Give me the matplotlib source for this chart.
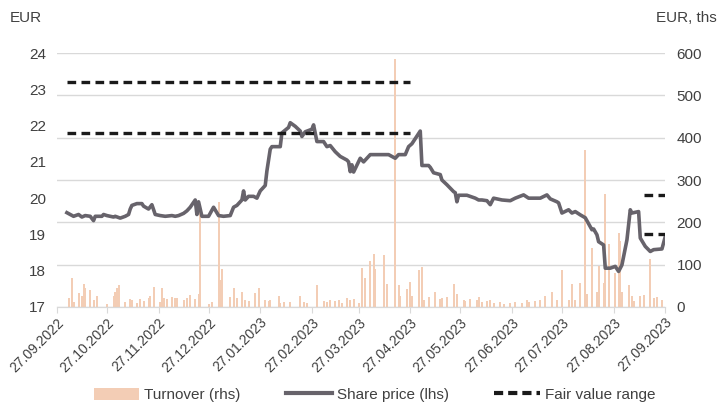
import pandas as pd
import matplotlib.pyplot as plt
import matplotlib.dates as mdates
from matplotlib.patches import Patch
from matplotlib.lines import Line2D

plt.rcParams['font.family'] = ['Liberation Sans', 'DejaVu Sans']

# share price, EUR (lhs)
price_dates = [
    '2022-10-03', '2022-10-05', '2022-10-07', '2022-10-10', '2022-10-12', '2022-10-14',
    '2022-10-17', '2022-10-19', '2022-10-20', '2022-10-24', '2022-10-25', '2022-10-27',
    '2022-10-31', '2022-11-01', '2022-11-04', '2022-11-07', '2022-11-09', '2022-11-10',
    '2022-11-11', '2022-11-14', '2022-11-17', '2022-11-18', '2022-11-21', '2022-11-23',
    '2022-11-25', '2022-11-28', '2022-12-01', '2022-12-05', '2022-12-07', '2022-12-09',
    '2022-12-12', '2022-12-14', '2022-12-16', '2022-12-19', '2022-12-20', '2022-12-21',
    '2022-12-23', '2022-12-27', '2022-12-30', '2023-01-02', '2023-01-05', '2023-01-09',
    '2023-01-11', '2023-01-13', '2023-01-16', '2023-01-17', '2023-01-18', '2023-01-20',
    '2023-01-23', '2023-01-25', '2023-01-27', '2023-01-30', '2023-01-31', '2023-02-02',
    '2023-02-03', '2023-02-08', '2023-02-09', '2023-02-13', '2023-02-14', '2023-02-17',
    '2023-02-20', '2023-02-21', '2023-02-23', '2023-02-27', '2023-02-28', '2023-03-02',
    '2023-03-06', '2023-03-08', '2023-03-10', '2023-03-13', '2023-03-16', '2023-03-20',
    '2023-03-21', '2023-03-22', '2023-03-23', '2023-03-24', '2023-03-28', '2023-03-30',
    '2023-04-03', '2023-04-10', '2023-04-14', '2023-04-18', '2023-04-20', '2023-04-24',
    '2023-04-26', '2023-04-28', '2023-05-03', '2023-05-04', '2023-05-08', '2023-05-09',
    '2023-05-11', '2023-05-15', '2023-05-16', '2023-05-19', '2023-05-23', '2023-05-24',
    '2023-05-25', '2023-05-26', '2023-05-31', '2023-06-05', '2023-06-07', '2023-06-09',
    '2023-06-12', '2023-06-14', '2023-06-16', '2023-06-21', '2023-06-26', '2023-06-29',
    '2023-07-04', '2023-07-07', '2023-07-14', '2023-07-18', '2023-07-20', '2023-07-24',
    '2023-07-25', '2023-07-27', '2023-07-31', '2023-08-02', '2023-08-04', '2023-08-07',
    '2023-08-10', '2023-08-14', '2023-08-15', '2023-08-17', '2023-08-18', '2023-08-21',
    '2023-08-22', '2023-08-25', '2023-08-28', '2023-08-30', '2023-09-01', '2023-09-04',
    '2023-09-06', '2023-09-07', '2023-09-11', '2023-09-12', '2023-09-15', '2023-09-18',
    '2023-09-20', '2023-09-25', '2023-09-27',
]
price = [
    19.60, 19.55, 19.50, 19.55, 19.48, 19.52,
    19.50, 19.38, 19.50, 19.50, 19.55, 19.52,
    19.48, 19.50, 19.45, 19.50, 19.55, 19.70,
    19.80, 19.85, 19.85, 19.78, 19.70, 19.82,
    19.55, 19.52, 19.50, 19.52, 19.50, 19.52,
    19.58, 19.65, 19.75, 19.95, 19.55, 19.90,
    19.50, 19.50, 19.75, 19.52, 19.50, 19.52,
    19.75, 19.80, 19.95, 20.20, 19.95, 20.05,
    20.05, 20.00, 20.20, 20.35, 20.75, 21.35,
    21.42, 21.42, 21.80, 21.95, 22.08, 21.98,
    21.85, 21.70, 21.83, 21.90, 22.02, 21.56,
    21.56, 21.42, 21.45, 21.28, 21.15, 21.05,
    21.00, 20.73, 20.92, 20.72, 21.10, 21.00,
    21.20, 21.20, 21.20, 21.10, 21.20, 21.20,
    21.42, 21.50, 21.85, 20.90, 20.90, 20.85,
    20.70, 20.65, 20.50, 20.37, 20.18, 20.15,
    19.90, 20.08, 20.08, 20.00, 19.95, 19.95,
    19.93, 19.82, 20.00, 19.95, 19.93, 20.00,
    20.09, 20.00, 20.00, 20.09, 19.98, 19.90,
    19.87, 19.59, 19.68, 19.59, 19.63, 19.54,
    19.46, 19.13, 19.15, 18.99, 18.80, 18.71,
    18.07, 18.07, 18.12, 17.98, 18.16, 18.85,
    19.68, 19.59, 19.63, 18.90, 18.67, 18.53,
    18.58, 18.60, 18.94,
]

# turnover, EUR ths (rhs)
turnover_dates = [
    '2022-10-04', '2022-10-06', '2022-10-07', '2022-10-10', '2022-10-12', '2022-10-13',
    '2022-10-14', '2022-10-17', '2022-10-19', '2022-10-21', '2022-10-27', '2022-10-31',
    '2022-11-01', '2022-11-02', '2022-11-03', '2022-11-07', '2022-11-10', '2022-11-11',
    '2022-11-14', '2022-11-16', '2022-11-18', '2022-11-21', '2022-11-22', '2022-11-24',
    '2022-11-28', '2022-11-29', '2022-11-30', '2022-12-02', '2022-12-05', '2022-12-07',
    '2022-12-08', '2022-12-12', '2022-12-14', '2022-12-16', '2022-12-19', '2022-12-21',
    '2022-12-22', '2022-12-27', '2022-12-29', '2023-01-02', '2023-01-03', '2023-01-04',
    '2023-01-09', '2023-01-11', '2023-01-13', '2023-01-16', '2023-01-18', '2023-01-20',
    '2023-01-24', '2023-01-26', '2023-01-30', '2023-02-01', '2023-02-02', '2023-02-07',
    '2023-02-08', '2023-02-10', '2023-02-14', '2023-02-20', '2023-02-22', '2023-02-24',
    '2023-03-02', '2023-03-06', '2023-03-08', '2023-03-10', '2023-03-13', '2023-03-15',
    '2023-03-17', '2023-03-20', '2023-03-22', '2023-03-24', '2023-03-27', '2023-03-29',
    '2023-03-31', '2023-04-03', '2023-04-05', '2023-04-06', '2023-04-11', '2023-04-13',
    '2023-04-18', '2023-04-20', '2023-04-21', '2023-04-25', '2023-04-27', '2023-04-28',
    '2023-05-02', '2023-05-04', '2023-05-05', '2023-05-08', '2023-05-12', '2023-05-15',
    '2023-05-16', '2023-05-19', '2023-05-23', '2023-05-25', '2023-05-29', '2023-05-30',
    '2023-06-02', '2023-06-06', '2023-06-07', '2023-06-09', '2023-06-12', '2023-06-14',
    '2023-06-16', '2023-06-20', '2023-06-22', '2023-06-26', '2023-06-29', '2023-07-03',
    '2023-07-06', '2023-07-07', '2023-07-11', '2023-07-14', '2023-07-17', '2023-07-21',
    '2023-07-24', '2023-07-27', '2023-07-31', '2023-08-02', '2023-08-04', '2023-08-07',
    '2023-08-10', '2023-08-11', '2023-08-14', '2023-08-17', '2023-08-18', '2023-08-21',
    '2023-08-22', '2023-08-24', '2023-08-28', '2023-08-30', '2023-08-31', '2023-09-01',
    '2023-09-05', '2023-09-07', '2023-09-08', '2023-09-12', '2023-09-14', '2023-09-18',
    '2023-09-20', '2023-09-22', '2023-09-25',
]
turnover = [
    21, 68, 12, 32, 25, 55,
    44, 41, 16, 27, 7, 25,
    35, 46, 53, 12, 19, 16,
    10, 19, 14, 21, 25, 48,
    12, 46, 21, 19, 24, 21,
    21, 16, 21, 28, 18, 30,
    226, 7, 12, 249, 64, 89,
    23, 44, 21, 36, 16, 14,
    32, 46, 16, 14, 16, 27,
    9, 12, 12, 27, 12, 9,
    53, 14, 12, 16, 15, 16,
    9, 21, 16, 18, 9, 91,
    69, 109, 125, 89, 123, 55,
    586, 53, 25, 42, 60, 25,
    87, 94, 16, 24, 35, 18,
    21, 24, 55, 30, 16, 14,
    18, 16, 23, 12, 14, 16,
    9, 12, 7, 9, 12, 9,
    16, 12, 14, 16, 25, 36,
    16, 87, 16, 55, 16, 57,
    371, 30, 139, 35, 96, 57,
    267, 150, 80, 176, 157, 35,
    51, 25, 14, 25, 28, 114,
    21, 24, 16,
]

# fair value range, EUR
fv_periods = [('2022-10-03', '2023-04-27'), ('2023-09-14', '2023-09-27')]
fv_low = [21.8, 19.0]
fv_high = [23.2, 20.1]

tick_dates = pd.date_range('2022-09-01', '2023-09-01', freq='MS') + pd.Timedelta(days=26)

bar_color = '#f3cdb5'
line_color = '#67636b'
text_color = '#404040'

fig = plt.figure(figsize=(7.2, 4.05), dpi=100)
ax = fig.add_axes([0.079, 0.242, 0.845, 0.627])
ax_r = ax.twinx()

ax_r.bar(pd.to_datetime(turnover_dates), turnover, width=1.2, color=bar_color,
         linewidth=0, zorder=2)
ax_r.set_ylim(0, 600)
ax_r.set_yticks(range(0, 601, 100))
ax_r.grid(axis='y', color='#d9d9d9', linewidth=1, zorder=0)
ax_r.set_axisbelow(True)

ax.set_zorder(ax_r.get_zorder() + 1)
ax.patch.set_visible(False)
ax.plot(pd.to_datetime(price_dates), price, color=line_color, linewidth=2.6,
        solid_joinstyle='round', zorder=3)
for (start, end), lo, hi in zip(fv_periods, fv_low, fv_high):
    for v in (lo, hi):
        ax.plot(pd.to_datetime([start, end]), [v, v], color='#1a1a1a',
                linewidth=2.4, dashes=(2.6, 1.6), zorder=4)

ax.set_ylim(17, 24)
ax.set_yticks(range(17, 25))
ax.set_xlim(pd.Timestamp('2022-09-27'), pd.Timestamp('2023-09-27'))
ax.set_xticks(tick_dates)
ax.xaxis.set_major_formatter(mdates.DateFormatter('%d.%m.%Y'))
plt.setp(ax.get_xticklabels(), rotation=45, ha='right', rotation_mode='anchor')

for a in (ax, ax_r):
    for s in ('top', 'left', 'right'):
        a.spines[s].set_visible(False)
    a.spines['bottom'].set_color('#d9d9d9')
    a.tick_params(axis='y', length=0, labelsize=11, labelcolor=text_color, pad=8)
ax.tick_params(axis='x', length=4, color='#d9d9d9', labelsize=10,
               labelcolor=text_color, pad=2)

fig.text(0.014, 0.955, 'EUR', fontsize=11, color=text_color, va='center')
fig.text(0.995, 0.955, 'EUR, ths', fontsize=11, color=text_color, va='center', ha='right')

handles = [
    Patch(facecolor=bar_color, edgecolor='none'),
    Line2D([], [], color=line_color, linewidth=3),
    Line2D([], [], color='#1a1a1a', linewidth=3, dashes=(2.2, 1.2)),
]
labels = ['Turnover (rhs)', 'Share price (lhs)', 'Fair value range']
fig.legend(handles, labels, loc='center', bbox_to_anchor=(0.52, 0.025), ncol=3,
           frameon=False, fontsize=11, handlelength=3.0, handleheight=0.9,
           handletextpad=0.3, columnspacing=3.0, labelcolor=text_color)

fig.savefig('out.png', dpi=100)
